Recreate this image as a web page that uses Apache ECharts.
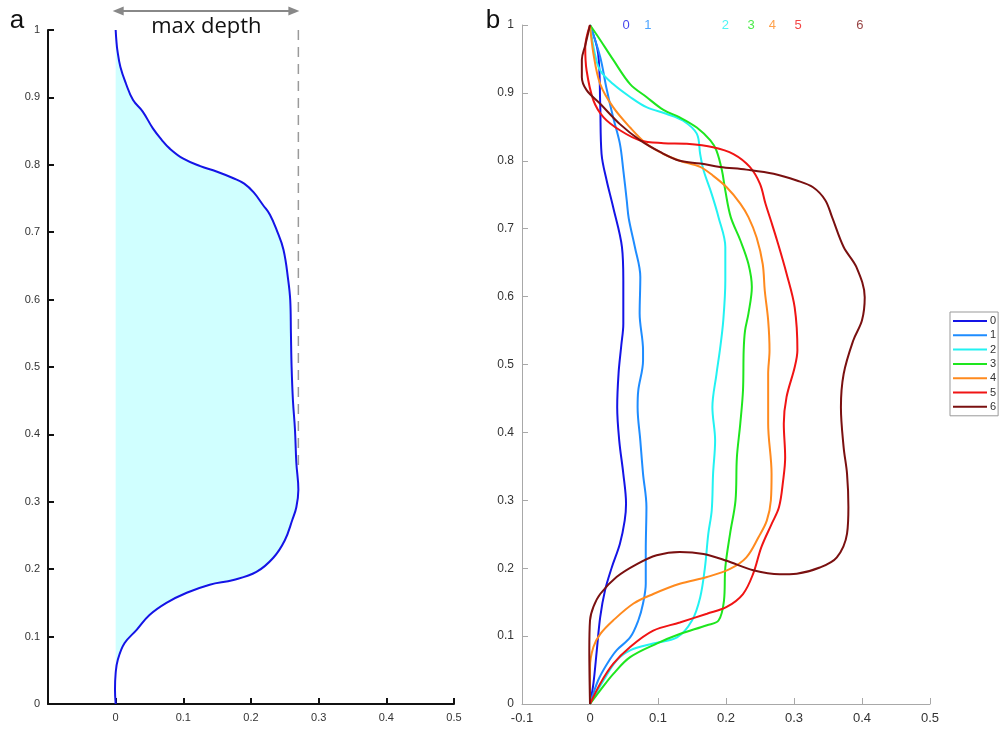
<!DOCTYPE html>
<html>
<head>
<meta charset="utf-8">
<script src="https://cdn.jsdelivr.net/npm/echarts@6/dist/echarts.min.js"></script>
<style>
html,body{margin:0;padding:0;background:#fff;}
#main{width:1000px;height:729px;}
</style>
</head>
<body>
<div id="main"></div>
<script>
// ---- Panel a: hollow profile (x = depth, y = normalized height) ----
const hollowX = [0,0.001,0.0025,0.007,0.015,0.0257,0.040,0.055,0.068,0.080,0.100,0.125,0.149,0.174,0.190,0.204,0.218,0.228,0.238,0.248,0.255,0.258,0.259,0.260,0.262,0.265,0.267,0.270,0.267,0.261,0.250,0.233,0.208,0.174,0.139,0.105,0.075,0.050,0.031,0.013,0.003,0,-0.001,0];
const hollowY = [1.0,0.985,0.970,0.945,0.921,0.896,0.879,0.854,0.837,0.824,0.809,0.798,0.790,0.780,0.772,0.759,0.740,0.726,0.703,0.674,0.629,0.599,0.55,0.50,0.45,0.407,0.358,0.318,0.292,0.273,0.243,0.217,0.196,0.184,0.177,0.165,0.150,0.132,0.110,0.090,0.065,0.046,0.021,0];
const maxDepth = 0.27;
const maxDepthLineY = [1, 0.35];

// ---- Panel b: profiles 0..6 as [x, y] pairs ----
const curve0 = [[0,1],[0.012,0.958],[0.015,0.884],[0.017,0.810],[0.0245,0.771],[0.034,0.732],[0.047,0.673],[0.049,0.624],[0.049,0.560],[0.046,0.528],[0.042,0.487],[0.040,0.437],[0.043,0.388],[0.049,0.339],[0.053,0.295],[0.051,0.27],[0.044,0.236],[0.032,0.201],[0.022,0.167],[0.015,0.128],[0.010,0.079],[0.005,0.030],[0,0]];
const curve1 = [[0,1],[0.015,0.953],[0.024,0.908],[0.034,0.864],[0.044,0.825],[0.049,0.786],[0.054,0.742],[0.057,0.715],[0.066,0.673],[0.074,0.629],[0.073,0.575],[0.078,0.521],[0.078,0.506],[0.071,0.462],[0.070,0.437],[0.074,0.388],[0.078,0.339],[0.083,0.29],[0.082,0.226],[0.082,0.177],[0.078,0.148],[0.071,0.123],[0.059,0.098],[0.039,0.079],[0.025,0.059],[0.012,0.035],[0,0]];
const curve2 = [[0,1],[0.007,0.958],[0.015,0.933],[0.034,0.913],[0.059,0.894],[0.083,0.879],[0.113,0.869],[0.137,0.859],[0.157,0.840],[0.162,0.810],[0.167,0.786],[0.179,0.751],[0.189,0.717],[0.199,0.673],[0.199,0.624],[0.196,0.565],[0.191,0.521],[0.186,0.486],[0.180,0.437],[0.184,0.388],[0.181,0.339],[0.179,0.285],[0.174,0.251],[0.169,0.201],[0.162,0.157],[0.150,0.123],[0.128,0.098],[0.093,0.089],[0.059,0.079],[0.039,0.064],[0.020,0.035],[0,0]];
const curve3 = [[0,1],[0.015,0.978],[0.034,0.949],[0.059,0.913],[0.083,0.894],[0.108,0.875],[0.132,0.864],[0.157,0.849],[0.177,0.830],[0.186,0.815],[0.194,0.786],[0.199,0.756],[0.207,0.717],[0.221,0.683],[0.233,0.648],[0.238,0.614],[0.233,0.575],[0.228,0.550],[0.226,0.521],[0.225,0.462],[0.221,0.413],[0.216,0.363],[0.214,0.30],[0.206,0.251],[0.199,0.201],[0.197,0.152],[0.189,0.123],[0.172,0.116],[0.132,0.103],[0.098,0.089],[0.059,0.069],[0.034,0.044],[0.015,0.020],[0,0]];
const curve4 = [[0,1],[0.005,0.958],[0.015,0.913],[0.034,0.879],[0.059,0.849],[0.083,0.825],[0.108,0.810],[0.132,0.800],[0.162,0.791],[0.181,0.778],[0.201,0.761],[0.221,0.737],[0.233,0.717],[0.245,0.687],[0.254,0.648],[0.257,0.609],[0.262,0.565],[0.264,0.521],[0.262,0.486],[0.262,0.413],[0.267,0.339],[0.266,0.30],[0.260,0.27],[0.248,0.246],[0.230,0.216],[0.206,0.199],[0.172,0.187],[0.132,0.177],[0.093,0.162],[0.064,0.148],[0.034,0.123],[0.015,0.103],[0.005,0.084],[0,0.054],[0,0]];
const curve5 = [[0,1],[-0.007,0.967],[-0.005,0.933],[0.005,0.889],[0.020,0.864],[0.044,0.845],[0.074,0.830],[0.108,0.826],[0.142,0.825],[0.181,0.820],[0.211,0.810],[0.235,0.791],[0.250,0.766],[0.258,0.737],[0.266,0.712],[0.275,0.683],[0.289,0.634],[0.301,0.584],[0.305,0.521],[0.301,0.496],[0.289,0.452],[0.285,0.413],[0.287,0.363],[0.284,0.329],[0.278,0.29],[0.267,0.265],[0.252,0.231],[0.240,0.192],[0.225,0.162],[0.201,0.143],[0.172,0.133],[0.132,0.120],[0.093,0.108],[0.059,0.084],[0.034,0.059],[0.015,0.030],[0,0]];
const curve6 = [[0,1],[-0.007,0.970],[-0.012,0.949],[-0.012,0.923],[-0.005,0.904],[0.015,0.884],[0.044,0.854],[0.074,0.830],[0.103,0.813],[0.132,0.800],[0.162,0.796],[0.191,0.791],[0.230,0.787],[0.270,0.781],[0.304,0.771],[0.328,0.761],[0.346,0.742],[0.356,0.717],[0.373,0.673],[0.392,0.643],[0.404,0.599],[0.400,0.565],[0.387,0.535],[0.373,0.486],[0.369,0.437],[0.373,0.378],[0.378,0.339],[0.380,0.29],[0.378,0.251],[0.363,0.216],[0.338,0.201],[0.304,0.192],[0.279,0.191],[0.240,0.197],[0.201,0.211],[0.167,0.221],[0.132,0.224],[0.098,0.219],[0.069,0.206],[0.039,0.187],[0.015,0.162],[0.005,0.143],[0,0.123],[-0.001,0.079],[0,0]];
const curves = [curve0, curve1, curve2, curve3, curve4, curve5, curve6];
const curveNames = ['0','1','2','3','4','5','6'];
const curveMaxDepth = [0.053, 0.085, 0.199, 0.237, 0.268, 0.306, 0.397];
const curveColors = ['#1414e6','#1e8cff','#22f2f2','#1ee61e','#ff8a1e','#f01414','#7a1010'];

// ---- tick settings ----
const xMin = -0.1, xMax = 0.5, xStep = 0.1;
const yMin = 0, yMax = 1, yStep = 0.1;

const chart = echarts.init(document.getElementById('main'), null, {renderer: 'canvas'});

const labelFont = 'Liberation Sans, Arial, sans-serif';

const series = [];
// fill of hollow area
series.push({
  type: 'custom', xAxisIndex: 0, yAxisIndex: 0, silent: true, z: 1,
  data: [[0, 0]],
  renderItem: function (params, api) {
    const pts = hollowX.map((x, i) => api.coord([x, hollowY[i]]));
    return {type: 'polygon', shape: {points: pts}, style: {fill: '#d0ffff', stroke: null}};
  }
});
series.push({
  type: 'line', name: 'hollow', xAxisIndex: 0, yAxisIndex: 0, z: 3,
  data: hollowX.map((x, i) => [x, hollowY[i]]),
  showSymbol: false, symbol: 'none', smooth: 0.4,
  lineStyle: {color: '#1414e6', width: 2}
});
series.push({
  type: 'line', name: 'maxline', xAxisIndex: 0, yAxisIndex: 0, z: 2,
  data: maxDepthLineY.map(y => [maxDepth, y]),
  showSymbol: false, symbol: 'none',
  lineStyle: {color: '#9a9a9a', width: 1.5, type: [10, 7]}
});
curves.forEach((c, i) => {
  series.push({
    type: 'line', name: curveNames[i], xAxisIndex: 1, yAxisIndex: 1,
    data: c, showSymbol: false, symbol: 'none', smooth: 0.35,
    lineStyle: {color: curveColors[i], width: 2}, itemStyle: {color: curveColors[i]}
  });
});
series.push({
  type: 'scatter', name: 'labels', xAxisIndex: 1, yAxisIndex: 1, symbolSize: 1, z: 5,
  itemStyle: {color: 'rgba(0,0,0,0)'},
  data: curveMaxDepth.map((x, i) => ({
    name: curveNames[i], value: [x, 1],
    label: {show: true, position: 'inside', formatter: '{b}', color: curveColors[i], fontSize: 13, fontFamily: labelFont}
  }))
});

function xAxisCfg(gridIndex, axisColor, axisWidth, labelSize, hideMin) {
  return {
    type: 'value', gridIndex: gridIndex, min: xMin, max: xMax, interval: xStep,
    axisLine: {show: true, onZero: false, lineStyle: {color: axisColor, width: axisWidth}},
    axisTick: {show: true, inside: true, length: 6, lineStyle: {color: axisColor, width: axisWidth}},
    splitLine: {show: false},
    axisLabel: {
      color: '#333', fontSize: labelSize, fontFamily: labelFont, margin: 8,
      formatter: function (v) { if (hideMin && v < -0.05) return ''; return String(Math.round(v * 10) / 10); }
    }
  };
}
function yAxisCfg(gridIndex, axisColor, axisWidth, labelSize) {
  return {
    type: 'value', gridIndex: gridIndex, min: yMin, max: yMax, interval: yStep,
    axisLine: {show: true, onZero: false, lineStyle: {color: axisColor, width: axisWidth}},
    axisTick: {show: true, inside: true, length: 6, lineStyle: {color: axisColor, width: axisWidth}},
    splitLine: {show: false},
    axisLabel: {
      color: '#333', fontSize: labelSize, fontFamily: labelFont, margin: 8,
      formatter: function (v) { return String(Math.round(v * 10) / 10); }
    }
  };
}

chart.setOption({
  animation: false,
  backgroundColor: '#fff',
  grid: [
    {left: 48, top: 30, width: 406, height: 674},
    {left: 522, top: 25, width: 408, height: 679}
  ],
  xAxis: [xAxisCfg(0, '#111', 2, 11, true), xAxisCfg(1, '#a8a8a8', 1, 13, false)],
  yAxis: [yAxisCfg(0, '#111', 2, 11), yAxisCfg(1, '#a8a8a8', 1, 12)],
  legend: {
    data: curveNames, orient: 'vertical', left: 950, top: 312,
    borderColor: '#999', borderWidth: 1, padding: [3, 2, 3, 3],
    icon: 'path://M0,0L0,0M0,12L0,12M0,5L34,5L34,7L0,7Z',
    itemWidth: 34, itemHeight: 12, itemGap: 2.3,
    textStyle: {fontSize: 11, color: '#333', fontFamily: labelFont, padding: [0, 0, 0, -2]}
  },
  series: series
});

// annotations positioned through the axes' scales
const pA0 = chart.convertToPixel({gridIndex: 0}, [0, 1]);
const pA1 = chart.convertToPixel({gridIndex: 0}, [maxDepth, 1]);
const arrowY = 11;
const arrowColor = '#888';
const pText1 = chart.convertToPixel({gridIndex: 0}, [0.134, 1]);
const pText2 = chart.convertToPixel({gridIndex: 0}, [0.128, 0.478]);
chart.setOption({
  graphic: [
    {type: 'line', shape: {x1: pA0[0] + 6, y1: arrowY, x2: pA1[0] - 6, y2: arrowY}, style: {stroke: arrowColor, lineWidth: 2}},
    {type: 'polygon', shape: {points: [[pA0[0] - 3, arrowY], [pA0[0] + 8, arrowY - 4.5], [pA0[0] + 8, arrowY + 4.5]]}, style: {fill: arrowColor}},
    {type: 'polygon', shape: {points: [[pA1[0] + 1, arrowY], [pA1[0] - 10, arrowY - 4.5], [pA1[0] - 10, arrowY + 4.5]]}, style: {fill: arrowColor}},
    {type: 'text', x: pText1[0], y: 27, style: {text: 'max depth', font: '22px "Open Sans", sans-serif', fill: '#111', textAlign: 'center', textVerticalAlign: 'middle'}},
    {type: 'text', x: pText2[0], y: pText2[1], style: {text: 'hollow area', font: '22px "Open Sans", sans-serif', fill: '#111', textAlign: 'center', textVerticalAlign: 'middle'}},
    {type: 'text', x: 17, y: 21, style: {text: 'a', font: '26px "Liberation Sans", Arial, sans-serif', fill: '#111', textAlign: 'center', textVerticalAlign: 'middle'}},
    {type: 'text', x: 493, y: 21, style: {text: 'b', font: '26px "Liberation Sans", Arial, sans-serif', fill: '#111', textAlign: 'center', textVerticalAlign: 'middle'}}
  ]
});
</script>
</body>
</html>
